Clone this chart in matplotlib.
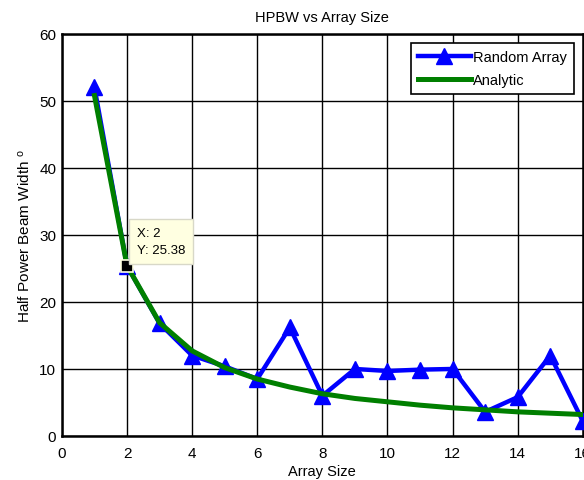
import matplotlib.pyplot as plt

plt.rcParams['font.family'] = ['Liberation Sans', 'DejaVu Sans']
plt.rcParams['mathtext.default'] = 'regular'

# array sizes and measured / analytic half power beam widths (degrees)
array_size = [1, 2, 3, 4, 5, 6, 7, 8, 9, 10, 11, 12, 13, 14, 15, 16]
random_hpbw = [52.0, 25.38, 16.8, 12.0, 10.4, 8.5, 16.2, 6.0, 10.0, 9.7, 9.9, 10.0, 3.6, 5.8, 12.0, 2.2]
analytic_hpbw = [50.8, 25.4, 16.9, 12.7, 10.2, 8.5, 7.3, 6.3, 5.6, 5.1, 4.6, 4.2, 3.9, 3.6, 3.4, 3.2]

x_ticks = [0, 2, 4, 6, 8, 10, 12, 14, 16]
y_ticks = [0, 10, 20, 30, 40, 50, 60]

tip_x = 2
tip_y = 25.38

fig = plt.figure(figsize=(5.84, 4.81), dpi=100)
ax = fig.add_axes([0.106, 0.0915, 0.892, 0.836])

ax.plot(array_size, random_hpbw, color='blue', lw=3.2, marker='^', ms=12,
        label='Random Array', zorder=3)
ax.plot(array_size, analytic_hpbw, color='#007f00', lw=3.6, label='Analytic', zorder=4)

# data tip
ax.plot([tip_x], [tip_y], marker='s', ms=8, color='black', mec='#ffffe0', mew=1.2, zorder=6)
ax.annotate(f'X: {tip_x}\nY: {tip_y}', xy=(tip_x, tip_y), xytext=(7, 7),
            textcoords='offset points', fontsize=9.5, va='bottom', ha='left',
            linespacing=1.55, zorder=7,
            bbox=dict(boxstyle='square,pad=0.6', fc='#ffffe1', ec='#d8d8c8', lw=1))

ax.set_xlim(0, 16)
ax.set_ylim(0, 60)
ax.set_xticks(x_ticks)
ax.set_yticks(y_ticks)
ax.grid(True, color='black', lw=1, ls='-')
ax.set_axisbelow(True)
ax.tick_params(direction='in', length=0, labelsize=11)
ax.tick_params(axis='x', pad=7)
ax.tick_params(axis='y', pad=4)
for s in ax.spines.values():
    s.set_linewidth(1.8)

ax.set_title('HPBW vs Array Size', fontsize=10.5, pad=9)
ax.set_xlabel('Array Size', fontsize=10.5, labelpad=3)
ax.set_ylabel('Half Power Beam Width $^{o}$', fontsize=11, labelpad=5)

leg = ax.legend(loc='upper right', fontsize=10.5, fancybox=False, edgecolor='black',
                framealpha=1, handlelength=3.6, handletextpad=0.15, borderpad=0.5,
                labelspacing=0.6, borderaxespad=0.6)
leg.get_frame().set_linewidth(1.2)

fig.savefig('out.png', dpi=100)
